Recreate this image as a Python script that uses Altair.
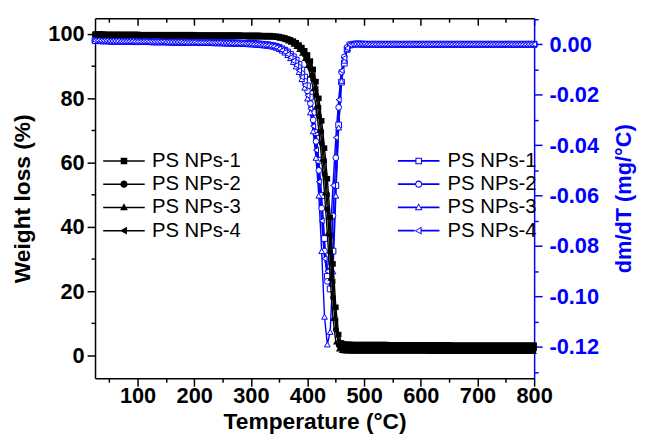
import altair as alt
import pandas as pd

FONT = "Liberation Sans"
BLUE = "#0000ff"

# ---------------- data ----------------
temps = list(range(25, 805, 5))          # temperature grid, 25..800 C
names = ["PS NPs-1", "PS NPs-2", "PS NPs-3", "PS NPs-4"]

# weight (%) 25..335
w1_pre = [100.0,100.0,100.0,100.0,99.9,99.9,99.9,99.9,99.9,99.9,
          99.9,99.9,99.9,99.9,99.9,99.9,99.8,99.8,99.8,99.8,
          99.8,99.8,99.8,99.8,99.8,99.8,99.8,99.8,99.8,99.8,
          99.8,99.8,99.8,99.8,99.8,99.8,99.7,99.7,99.7,99.7,
          99.7,99.7,99.7,99.7,99.7,99.7,99.7,99.7,99.7,99.7,
          99.7,99.7,99.6,99.6,99.6,99.6,99.6,99.6,99.6,99.5,
          99.5,99.5,99.5]
w2_pre = [99.9,99.9,99.9,99.8,99.8,99.8,99.8,99.8,99.8,99.8,
          99.8,99.7,99.7,99.7,99.7,99.7,99.7,99.7,99.7,99.7,
          99.7,99.7,99.6,99.6,99.6,99.6,99.6,99.6,99.6,99.6,
          99.6,99.6,99.6,99.5,99.5,99.5,99.5,99.5,99.5,99.5,
          99.5,99.5,99.5,99.5,99.4,99.4,99.4,99.4,99.4,99.4,
          99.4,99.4,99.4,99.3,99.3,99.3,99.3,99.3,99.3,99.3,
          99.2,99.2,99.2]
w3_pre = [99.8,99.8,99.8,99.7,99.7,99.7,99.7,99.7,99.7,99.6,
          99.6,99.6,99.6,99.6,99.6,99.6,99.5,99.5,99.5,99.5,
          99.5,99.5,99.5,99.5,99.4,99.4,99.4,99.4,99.4,99.4,
          99.4,99.4,99.4,99.3,99.3,99.3,99.3,99.3,99.3,99.3,
          99.3,99.3,99.3,99.2,99.2,99.2,99.2,99.2,99.2,99.2,
          99.2,99.2,99.2,99.2,99.1,99.1,99.1,99.1,99.1,99.1,
          99.1,99.1,99.1]
w4_pre = [100.0,100.0,99.9,99.9,99.9,99.9,99.9,99.8,99.8,99.8,
          99.8,99.8,99.8,99.8,99.8,99.8,99.8,99.7,99.7,99.7,
          99.7,99.7,99.7,99.7,99.7,99.7,99.7,99.7,99.7,99.6,
          99.6,99.6,99.6,99.6,99.6,99.6,99.6,99.6,99.6,99.6,
          99.6,99.6,99.5,99.5,99.5,99.5,99.5,99.5,99.5,99.5,
          99.5,99.5,99.5,99.5,99.5,99.4,99.4,99.4,99.4,99.4,
          99.4,99.4,99.4]
# weight (%) 340..480
w1_mid = [99.4,99.3,99.2,99.0,98.8,98.5,98.2,97.8,97.3,96.6,95.8,94.8,93.5,91.6,89.0,
          85.2,80.0,73.0,64.5,55.0,43.0,28.5,15.0,6.5,3.9,3.6,3.5,3.5,3.4]
w2_mid = [99.2,99.1,99.0,98.8,98.5,98.2,97.8,97.3,96.7,95.9,94.9,93.6,91.8,89.3,85.8,
          81.0,74.5,66.0,56.5,45.5,32.0,18.0,8.0,3.2,2.4,2.2,2.1,2.1,2.0]
w3_mid = [99.0,98.9,98.7,98.5,98.2,97.8,97.4,96.8,96.1,95.2,94.0,92.4,90.2,87.2,83.0,
          77.5,70.0,61.0,50.5,38.0,24.0,11.5,4.2,2.0,1.5,1.4,1.4,1.3,1.3]
w4_mid = [99.3,99.2,99.1,98.9,98.6,98.3,98.0,97.5,97.0,96.3,95.4,94.2,92.6,90.4,87.3,
          83.0,77.2,69.5,60.5,50.0,37.5,23.0,11.0,4.5,2.9,2.7,2.6,2.6,2.6]
# weight (%) 485..800
w1_post = [3.4,3.4,3.4,3.4,3.4,3.4,3.4,3.4,3.4,3.4,3.4,3.4,3.3,3.3,3.3,3.3,
           3.3,3.3,3.3,3.3,3.3,3.3,3.3,3.3,3.3,3.3,3.3,3.3,3.3,3.3,3.3,3.3,
           3.3,3.3,3.2,3.2,3.2,3.2,3.2,3.2,3.2,3.2,3.2,3.2,3.2,3.2,3.2,3.2,
           3.2,3.2,3.2,3.2,3.2,3.2,3.2,3.2,3.2,3.2,3.2,3.2,3.2,3.2,3.2,3.2]
w2_post = [2.0,2.0,2.0,2.0,2.0,2.0,2.0,2.0,2.0,2.0,2.0,2.0,2.0,2.0,2.0,2.0,
           2.0,2.0,2.0,2.0,2.0,2.0,2.0,2.0,1.9,1.9,1.9,1.9,1.9,1.9,1.9,1.9,
           1.9,1.9,1.9,1.9,1.9,1.9,1.9,1.9,1.9,1.9,1.9,1.9,1.9,1.9,1.9,1.9,
           1.9,1.9,1.9,1.9,1.9,1.9,1.9,1.9,1.9,1.9,1.9,1.9,1.9,1.9,1.9,1.9]
w3_post = [1.3,1.3,1.3,1.3,1.3,1.3,1.3,1.3,1.3,1.3,1.3,1.3,1.3,1.3,1.3,1.3,
           1.3,1.3,1.3,1.3,1.3,1.3,1.3,1.3,1.3,1.3,1.2,1.2,1.2,1.2,1.2,1.2,
           1.2,1.2,1.2,1.2,1.2,1.2,1.2,1.2,1.2,1.2,1.2,1.2,1.2,1.2,1.2,1.2,
           1.2,1.2,1.2,1.2,1.2,1.2,1.2,1.2,1.2,1.2,1.2,1.2,1.2,1.2,1.2,1.2]
w4_post = [2.6,2.6,2.6,2.6,2.6,2.6,2.6,2.6,2.6,2.6,2.6,2.6,2.6,2.6,2.6,2.6,
           2.6,2.6,2.6,2.6,2.5,2.5,2.5,2.5,2.5,2.5,2.5,2.5,2.5,2.5,2.5,2.5,
           2.5,2.5,2.5,2.5,2.5,2.5,2.5,2.5,2.5,2.5,2.5,2.5,2.5,2.5,2.5,2.5,
           2.5,2.5,2.5,2.5,2.5,2.5,2.5,2.5,2.5,2.5,2.5,2.5,2.5,2.5,2.5,2.5]

# dm/dT (mg/C) 25..335
d1_pre = [0.0016,0.0015,0.0015,0.0014,0.0014,0.0014,0.0013,0.0013,0.0013,0.0013,
          0.0012,0.0012,0.0012,0.0012,0.0012,0.0011,0.0011,0.0011,0.0011,0.0011,
          0.0011,0.0010,0.0010,0.0010,0.0010,0.0010,0.0010,0.0010,0.0009,0.0009,
          0.0009,0.0009,0.0009,0.0009,0.0009,0.0008,0.0008,0.0008,0.0008,0.0008,
          0.0008,0.0007,0.0007,0.0007,0.0007,0.0007,0.0006,0.0006,0.0006,0.0006,
          0.0005,0.0005,0.0005,0.0004,0.0004,0.0003,0.0003,0.0002,0.0001,0.0000,
          -0.0001,-0.0002,-0.0004]
d2_pre = [0.0014,0.0014,0.0013,0.0013,0.0013,0.0012,0.0012,0.0012,0.0012,0.0011,
          0.0011,0.0011,0.0011,0.0011,0.0010,0.0010,0.0010,0.0010,0.0010,0.0010,
          0.0009,0.0009,0.0009,0.0009,0.0009,0.0009,0.0009,0.0008,0.0008,0.0008,
          0.0008,0.0008,0.0008,0.0007,0.0007,0.0007,0.0007,0.0007,0.0007,0.0006,
          0.0006,0.0006,0.0006,0.0006,0.0005,0.0005,0.0005,0.0005,0.0004,0.0004,
          0.0004,0.0003,0.0003,0.0003,0.0002,0.0002,0.0001,0.0000,-0.0001,-0.0002,
          -0.0003,-0.0004,-0.0006]
d3_pre = [0.0013,0.0013,0.0012,0.0012,0.0012,0.0011,0.0011,0.0011,0.0011,0.0010,
          0.0010,0.0010,0.0010,0.0010,0.0009,0.0009,0.0009,0.0009,0.0009,0.0009,
          0.0008,0.0008,0.0008,0.0008,0.0008,0.0008,0.0007,0.0007,0.0007,0.0007,
          0.0007,0.0007,0.0006,0.0006,0.0006,0.0006,0.0006,0.0005,0.0005,0.0005,
          0.0005,0.0005,0.0004,0.0004,0.0004,0.0004,0.0003,0.0003,0.0003,0.0002,
          0.0002,0.0002,0.0001,0.0001,0.0000,0.0000,-0.0001,-0.0002,-0.0003,-0.0004,
          -0.0005,-0.0006,-0.0008]
d4_pre = [0.0015,0.0015,0.0014,0.0014,0.0014,0.0013,0.0013,0.0013,0.0013,0.0012,
          0.0012,0.0012,0.0012,0.0012,0.0011,0.0011,0.0011,0.0011,0.0011,0.0010,
          0.0010,0.0010,0.0010,0.0010,0.0010,0.0009,0.0009,0.0009,0.0009,0.0009,
          0.0009,0.0008,0.0008,0.0008,0.0008,0.0008,0.0007,0.0007,0.0007,0.0007,
          0.0007,0.0006,0.0006,0.0006,0.0006,0.0005,0.0005,0.0005,0.0004,0.0004,
          0.0004,0.0003,0.0003,0.0002,0.0002,0.0001,0.0000,-0.0001,-0.0002,-0.0003,
          -0.0004,-0.0005,-0.0007]
# dm/dT 340..480
d1_mid = [-0.0006,-0.0009,-0.0013,-0.0018,-0.0024,-0.0031,-0.0040,-0.0050,-0.0063,-0.0080,
          -0.0102,-0.0130,-0.0165,-0.0210,-0.0270,-0.0350,-0.0460,-0.0600,-0.0770,-0.0920,
          -0.0970,-0.0820,-0.0560,-0.0320,-0.0150,-0.0075,-0.0020,-0.0003,0.0000]
d2_mid = [-0.0008,-0.0011,-0.0015,-0.0021,-0.0028,-0.0036,-0.0046,-0.0058,-0.0073,-0.0092,
          -0.0116,-0.0146,-0.0185,-0.0235,-0.0300,-0.0385,-0.0500,-0.0650,-0.0820,-0.0940,
          -0.0880,-0.0680,-0.0450,-0.0250,-0.0110,-0.0050,-0.0012,-0.0001,0.0000]
d3_mid = [-0.0010,-0.0014,-0.0019,-0.0025,-0.0033,-0.0043,-0.0055,-0.0070,-0.0088,-0.0110,
          -0.0138,-0.0172,-0.0215,-0.0270,-0.0345,-0.0450,-0.0600,-0.0820,-0.1080,-0.1190,
          -0.1140,-0.0900,-0.0600,-0.0330,-0.0145,-0.0065,-0.0018,-0.0002,0.0000]
d4_mid = [-0.0009,-0.0013,-0.0018,-0.0024,-0.0031,-0.0040,-0.0052,-0.0066,-0.0083,-0.0104,
          -0.0130,-0.0162,-0.0203,-0.0255,-0.0325,-0.0420,-0.0545,-0.0700,-0.0850,-0.0900,
          -0.0760,-0.0560,-0.0370,-0.0220,-0.0105,-0.0055,-0.0015,-0.0002,0.0000]
# dm/dT 485..800
d1_post = [0.0001,0.0001,0.0001,0.0000,0.0000,0.0000,0.0000,0.0000,0.0000,0.0000,0.0000,0.0000,0.0000,0.0000,0.0000,0.0000,
           0.0000,0.0000,0.0000,0.0000,0.0000,0.0000,0.0000,0.0000,0.0000,0.0000,0.0000,0.0000,0.0000,0.0000,0.0000,0.0000,
           0.0000,0.0000,0.0000,0.0000,0.0000,0.0000,0.0000,0.0000,0.0000,0.0000,0.0000,0.0000,0.0000,0.0000,0.0000,0.0000,
           0.0000,0.0000,0.0000,0.0000,0.0000,0.0000,0.0000,0.0000,0.0000,0.0000,0.0000,0.0000,0.0000,0.0000,0.0000,0.0000]
d2_post = [0.0001,0.0001,0.0000,0.0000,0.0000,0.0000,0.0000,0.0000,0.0000,0.0000,0.0000,0.0000,0.0000,0.0000,0.0000,0.0000,
           0.0000,0.0000,0.0000,0.0000,0.0000,0.0000,0.0000,0.0000,0.0000,0.0000,0.0000,0.0000,0.0000,0.0000,0.0000,0.0000,
           0.0000,0.0000,0.0000,0.0000,0.0000,0.0000,0.0000,0.0000,0.0000,0.0000,0.0000,0.0000,0.0000,0.0000,0.0000,0.0000,
           0.0000,0.0000,0.0000,0.0000,0.0000,0.0000,0.0000,0.0000,0.0000,0.0000,0.0000,0.0000,0.0000,0.0000,0.0000,0.0000]
d3_post = [0.0001,0.0000,0.0000,0.0000,0.0000,0.0000,0.0000,0.0000,0.0000,0.0000,0.0000,0.0000,0.0000,0.0000,0.0000,0.0000,
           0.0000,0.0000,0.0000,0.0000,0.0000,0.0000,0.0000,0.0000,0.0000,0.0000,0.0000,0.0000,0.0000,0.0000,0.0000,0.0000,
           0.0000,0.0000,0.0000,0.0000,0.0000,0.0000,0.0000,0.0000,0.0000,0.0000,0.0000,0.0000,0.0000,0.0000,0.0000,0.0000,
           0.0000,0.0000,0.0000,0.0000,0.0000,0.0000,0.0000,0.0000,0.0000,0.0000,0.0000,0.0000,0.0000,0.0000,0.0000,0.0000]
d4_post = [0.0001,0.0001,0.0001,0.0001,0.0000,0.0000,0.0000,0.0000,0.0000,0.0000,0.0000,0.0000,0.0000,0.0000,0.0000,0.0000,
           0.0000,0.0000,0.0000,0.0000,0.0000,0.0000,0.0000,0.0000,0.0000,0.0000,0.0000,0.0000,0.0000,0.0000,0.0000,0.0000,
           0.0000,0.0000,0.0000,0.0000,0.0000,0.0000,0.0000,0.0000,0.0000,0.0000,0.0000,0.0000,0.0000,0.0000,0.0000,0.0000,
           0.0000,0.0000,0.0000,0.0000,0.0000,0.0000,0.0000,0.0000,0.0000,0.0000,0.0000,0.0000,0.0000,0.0000,0.0000,0.0000]

weights = [w1_pre + w1_mid + w1_post, w2_pre + w2_mid + w2_post,
           w3_pre + w3_mid + w3_post, w4_pre + w4_mid + w4_post]
derivs = [d1_pre + d1_mid + d1_post, d2_pre + d2_mid + d2_post,
          d3_pre + d3_mid + d3_post, d4_pre + d4_mid + d4_post]

x_ticks = [50, 100, 150, 200, 250, 300, 350, 400, 450, 500, 550, 600, 650, 700, 750, 800]
yl_ticks = [0, 10, 20, 30, 40, 50, 60, 70, 80, 90, 100]
yr_ticks = [0.01, 0.0, -0.01, -0.02, -0.03, -0.04, -0.05, -0.06, -0.07, -0.08,
            -0.09, -0.10, -0.11, -0.12, -0.13]

rows_w, rows_d = [], []
for n, wv, dv in zip(names, weights, derivs):
    assert len(wv) == len(temps) and len(dv) == len(temps)
    for t, w, d in zip(temps, wv, dv):
        rows_w.append({"T": t, "W": w, "series": n})
        rows_d.append({"T": t, "D": d, "series": n})
df_w = pd.DataFrame(rows_w)
df_d = pd.DataFrame(rows_d)

# ---------------- scales & axes ----------------
W, H = 444, 364
x_scale = alt.Scale(domain=[25, 800], nice=False, zero=False)
yw_scale = alt.Scale(domain=[-7.08, 104.92], nice=False, zero=False)
yd_scale = alt.Scale(domain=[-0.1324, 0.0103], nice=False, zero=False)

common = dict(grid=False, labelFont=FONT, labelFontWeight="bold", titleFont=FONT,
              titleFontWeight="bold", labelFlush=False, labelOverlap=False,
              domainWidth=1.5, tickWidth=1.5)

axis_bottom = alt.Axis(
    orient="bottom", values=x_ticks,
    labelExpr="datum.value % 100 === 0 ? datum.label : ''",
    tickSize={"condition": {"test": "datum.value % 100 === 0", "value": 8}, "value": 4},
    domainColor="black", tickColor="black", labelColor="black", labelFontSize=22,
    labelPadding=0, title="Temperature (°C)", titleFontSize=23, titleColor="black",
    titleBaseline="alphabetic", titleY=51, **common)
axis_top = alt.Axis(
    orient="bottom", offset=-H, values=x_ticks, labels=False,
    tickSize={"condition": {"test": "datum.value % 100 === 0", "value": 7}, "value": 4},
    domainColor="black", tickColor="black", title="", **common)
axis_left = alt.Axis(
    orient="left", values=yl_ticks,
    labelExpr="datum.value % 20 === 0 ? datum.label : ''",
    tickSize={"condition": {"test": "datum.value % 20 === 0", "value": 8}, "value": 4},
    domainColor="black", tickColor="black", labelColor="black", labelFontSize=22,
    labelPadding=3, title="Weight loss (%)", titleFontSize=23, titleColor="black",
    titlePadding=14, **common)
axis_right = alt.Axis(
    orient="right", values=yr_ticks,
    labelExpr="round(abs(datum.value)*100) % 2 === 0 ? (datum.value < 0 ? '-' : '') + format(abs(datum.value), '.2f') : ''",
    tickSize={"condition": {"test": "round(abs(datum.value)*100) % 2 === 0", "value": 8}, "value": 4},
    domainColor=BLUE, tickColor=BLUE, labelColor=BLUE, labelFontSize=22,
    labelPadding=7, title="dm/dT (mg/°C)", titleFontSize=22, titleColor=BLUE,
    titleAngle=270, titleBaseline="top", titlePadding=15, **common)

x_bot = alt.X("T:Q", scale=x_scale, axis=axis_bottom)
x_top = alt.X("T:Q", scale=x_scale, axis=axis_top)
y_w = alt.Y("W:Q", scale=yw_scale, axis=axis_left)
y_d = alt.Y("D:Q", scale=yd_scale, axis=axis_right)

shapes = ["square", "circle", "triangle-up", "triangle-left"]

# ---------------- marks ----------------
blue_line = alt.Chart(df_d).mark_line(color=BLUE, strokeWidth=1.4).encode(
    x=x_top, y=y_d, detail="series:N")
blue_pts = alt.Chart(df_d).mark_point(
    filled=True, fill="white", stroke=BLUE, strokeWidth=1, size=34, opacity=1).encode(
    x=x_top, y=y_d,
    shape=alt.Shape("series:N", scale=alt.Scale(domain=names, range=shapes), legend=None))
blue = alt.layer(blue_line, blue_pts)

black_line = alt.Chart(df_w).mark_line(color="black", strokeWidth=1.4).encode(
    x=x_bot, y=y_w, detail="series:N")
black_pts = alt.Chart(df_w).mark_point(
    filled=True, color="black", size=32, opacity=1).encode(
    x=x_bot, y=y_w,
    shape=alt.Shape("series:N", scale=alt.Scale(domain=names, range=shapes), legend=None))
black = alt.layer(black_line, black_pts)

# legend symbols (fill only): a line with the marker in the middle
paths_black = [
    "M-7,-0.25H7V0.25H-7ZM-1.1,-1.1H1.1V1.1H-1.1Z",
    "M-7,-0.25H7V0.25H-7ZM-1.2,0A1.2,1.2 0 1,1 1.2,0A1.2,1.2 0 1,1 -1.2,0Z",
    "M-7,-0.25H7V0.25H-7ZM0,-1.4L1.3,1H-1.3Z",
    "M-7,-0.25H7V0.25H-7ZM-1.4,0L1,-1.3V1.3Z",
]
paths_blue = [
    "M-7,-0.3H-1.1V0.3H-7ZM1.1,-0.3H7V0.3H1.1Z"
    "M-1.1,-1.1H1.1V1.1H-1.1ZM-0.75,-0.75V0.75H0.75V-0.75Z",
    "M-7,-0.3H-1.2V0.3H-7ZM1.2,-0.3H7V0.3H1.2Z"
    "M-1.2,0A1.2,1.2 0 1,1 1.2,0A1.2,1.2 0 1,1 -1.2,0Z"
    "M-0.85,0A0.85,0.85 0 1,0 0.85,0A0.85,0.85 0 1,0 -0.85,0Z",
    "M-7,-0.3H-0.76V0.3H-7ZM0.76,-0.3H7V0.3H0.76Z"
    "M0,-1.4L1.3,1H-1.3ZM0,-0.85L-0.8,0.65H0.8Z",
    "M-7,-0.3H-1.4V0.3H-7ZM1,-0.3H7V0.3H1Z"
    "M-1.4,0L1,-1.3V1.3ZM-0.85,0L0.65,0.8V-0.8Z",
]

def legend(x, y, color, off):
    return alt.Legend(orient="none", legendX=x, legendY=y, title=None, padding=0,
                      labelFont=FONT, labelFontSize=20.5, labelColor="black",
                      labelOffset=off, rowPadding=2.5, symbolSize=36,
                      symbolStrokeWidth=0, symbolFillColor=color)

leg_black = alt.Chart(df_w).transform_filter("false").mark_point(
    filled=True, color="black", strokeWidth=0, opacity=1).encode(
    shape=alt.Shape("series:N", scale=alt.Scale(domain=names, range=paths_black),
                    legend=legend(19, 134, "black", 18)))
leg_blue = alt.Chart(df_d).transform_filter("false").mark_point(
    filled=True, color=BLUE, strokeWidth=0, opacity=1).encode(
    shape=alt.Shape("series:N", scale=alt.Scale(domain=names, range=paths_blue),
                    legend=legend(317, 134, BLUE, 19)))

chart = alt.layer(blue, black, leg_black, leg_blue).resolve_scale(
    y="independent", shape="independent"
).resolve_axis(
    x="independent"
).properties(
    width=W, height=H,
    autosize=alt.AutoSizeParams(type="none"),
    padding={"left": 88, "top": 8, "right": 104, "bottom": 55},
    background="white",
).configure_view(stroke=None)

chart.save("out.html", embed_options={"renderer": "svg", "actions": False})
